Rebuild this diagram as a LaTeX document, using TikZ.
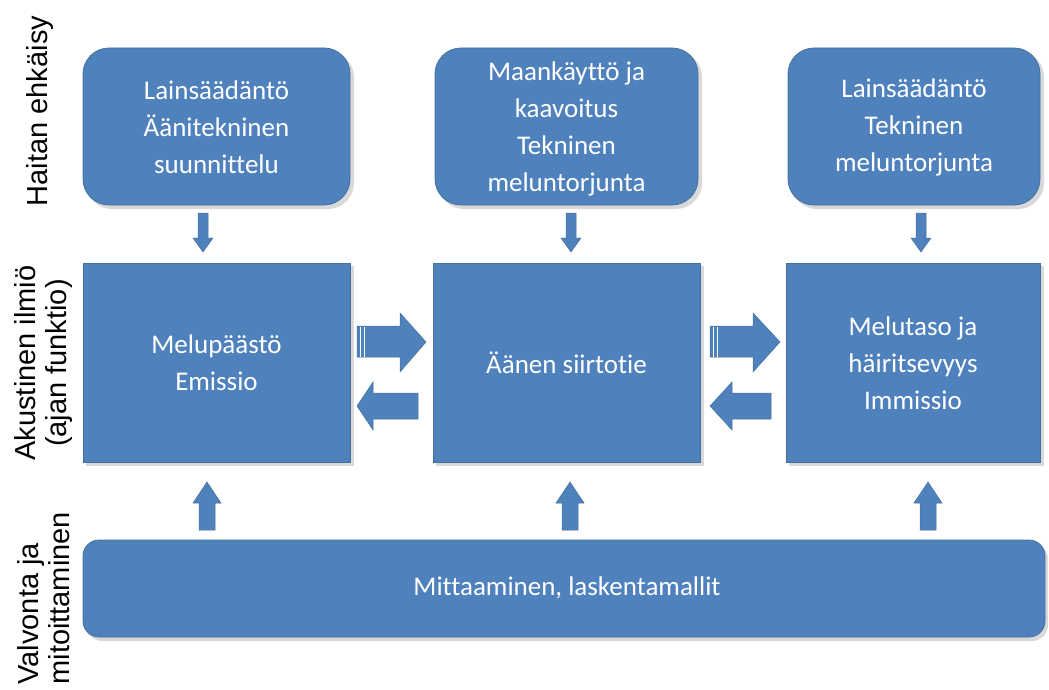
\documentclass[tikz,border=0pt]{standalone}
\usepackage{fontspec}
\setmainfont{Carlito}[Ligatures={NoCommon}]
\newfontfamily\arialf{Liberation Sans}
\definecolor{boxblue}{HTML}{4F81BD}
\definecolor{boxedge}{HTML}{41719C}
\begin{document}
\begin{tikzpicture}[x=1pt,y=-1pt,
  rbox/.style={draw=boxedge,line width=0.8pt,fill=boxblue,rounded corners=26pt},
  sbox/.style={draw=boxedge,line width=0.8pt,fill=boxblue},
  btext/.style={text=white,align=center,font=\fontsize{27}{37}\selectfont},
  sidelabel/.style={rotate=90,align=left,font=\arialf\fontsize{29}{31}\selectfont},
  barrow/.style={fill=boxblue,draw=boxedge,line width=0.5pt}]
\useasboundingbox (0,0) rectangle (1049,690);
% shadows
\fill[black!15,rounded corners=26pt] (86,51) rectangle (354,209);
\fill[black!15,rounded corners=26pt] (438,51) rectangle (702,209);
\fill[black!15,rounded corners=26pt] (791,51) rectangle (1044,209);
\fill[black!15] (86,266) rectangle (354,466);
\fill[black!15] (436,266) rectangle (704,466);
\fill[black!15] (789,266) rectangle (1044,466);
\fill[black!15,rounded corners=16pt] (86,543) rectangle (1048,641);
% top boxes
\path[rbox] (83,48) rectangle (350,205);
\node[btext] (t1) at (216.5,127) {Lainsäädäntö\\Äänitekninen\\suunnittelu};
\path[rbox] (435,48) rectangle (698,205);
\node[btext] (t2) at (566.5,129) {Maankäyttö ja\\kaavoitus\\Tekninen\\meluntorjunta};
\path[rbox] (788,48) rectangle (1040,205);
\node[btext] (t3) at (914,127) {Lainsäädäntö\\Tekninen\\meluntorjunta};
% middle boxes
\path[sbox] (83,263) rectangle (350,462);
\node[btext] (m1) at (216.5,363) {Melupäästö\\Emissio};
\path[sbox] (433,263) rectangle (700,462);
\node[btext] (m2) at (566.5,363) {Äänen siirtotie};
\path[sbox] (786,263) rectangle (1040,462);
\node[btext] (m3) at (913,363) {Melutaso ja\\häiritsevyys\\Immissio};
% bottom bar
\path[sbox,rounded corners=16pt] (83,540) rectangle (1045,637);
\node[btext] (b) at (567,588) {Mittaaminen, laskentamallit};
% side labels
\node[sidelabel] (l1) at (40,111) {Haitan ehkäisy};
\node[sidelabel,align=center] (l2) at (44,363) {Akustinen ilmiö\\(ajan funktio)};
\node[sidelabel,anchor=west] (l3) at (44,688) {Valvonta ja\\mitoittaminen};
% down arrows
\foreach \x in {203,571,921}{
  \path[barrow] (\x-5,213) -- (\x+5,213) -- (\x+5,238) -- (\x+10,238) -- (\x,252) -- (\x-10,238) -- (\x-5,238) -- cycle;
}
% up arrows
\foreach \x in {207,570,928}{
  \path[barrow] (\x-8,530) -- (\x+8,530) -- (\x+8,503) -- (\x+14,503) -- (\x,482) -- (\x-14,503) -- (\x-8,503) -- cycle;
}
% right arrows
\foreach \a/\h/\t in {357/400/426,710/753/780}{
  \path[barrow] (\a,326) -- (\h,326) -- (\h,313) -- (\t,342) -- (\h,372) -- (\h,357) -- (\a,357) -- cycle;
  \draw[white,line width=0.8pt] (\a+3.5,326.5) -- (\a+3.5,356.5);
  \draw[white,line width=0.8pt] (\a+7,326.5) -- (\a+7,356.5);
}
% left arrows
\foreach \t/\h/\e in {357/373/418,710/732/771}{
  \path[barrow] (\e,393) -- (\h,393) -- (\h,382) -- (\t,406) -- (\h,430) -- (\h,419) -- (\e,419) -- cycle;
}
\end{tikzpicture}
\end{document}
